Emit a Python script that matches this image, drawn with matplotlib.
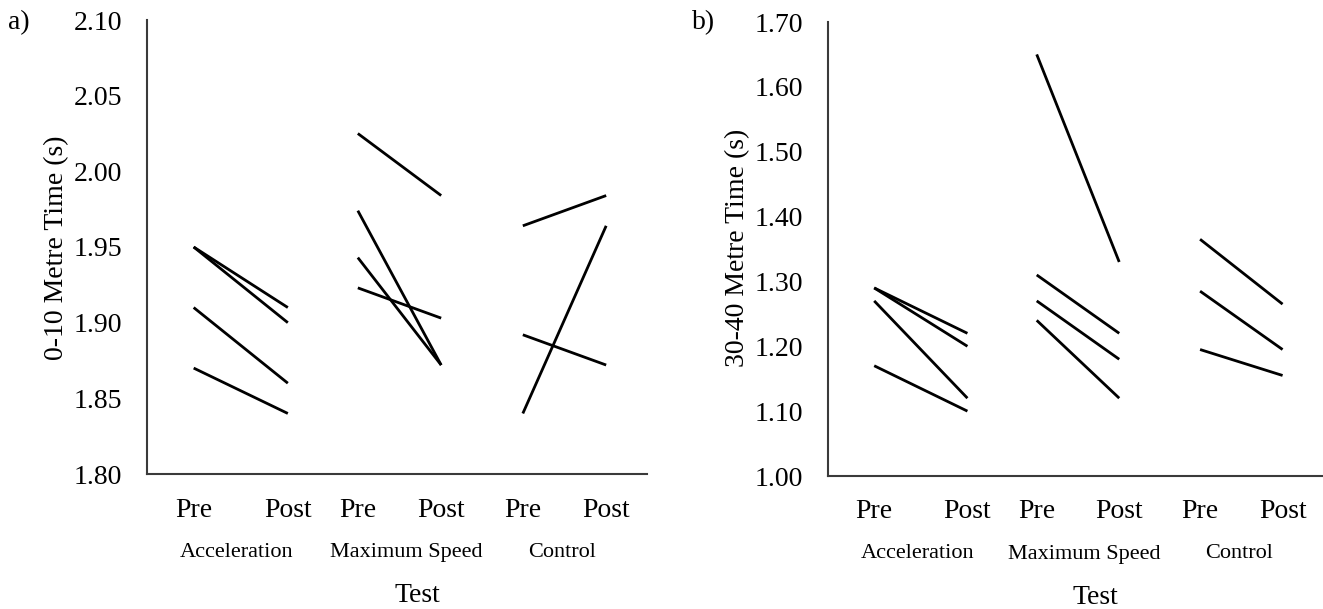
import matplotlib
matplotlib.use("Agg")
import matplotlib.pyplot as plt
from matplotlib.transforms import blended_transform_factory

plt.rcParams['font.family'] = ['Liberation Serif', 'DejaVu Serif']

# ---------------- data ----------------
groups = ["Acceleration", "Maximum Speed", "Control"]
phase_labels = ["Pre", "Post"]

# Panel a: 0-10 m time (s)
acc_a_pre = [1.95, 1.95, 1.91, 1.87]
acc_a_post = [1.91, 1.90, 1.86, 1.84]
max_a_pre = [2.025, 1.974, 1.943, 1.923]
max_a_post = [1.984, 1.872, 1.872, 1.903]
ctrl_a_pre = [1.964, 1.892, 1.84]
ctrl_a_post = [1.984, 1.872, 1.964]
yticks_a = [1.80, 1.85, 1.90, 1.95, 2.00, 2.05, 2.10]

# Panel b: 30-40 m time (s)
acc_b_pre = [1.29, 1.29, 1.27, 1.17]
acc_b_post = [1.22, 1.20, 1.12, 1.10]
max_b_pre = [1.65, 1.31, 1.27, 1.24]
max_b_post = [1.33, 1.22, 1.18, 1.12]
ctrl_b_pre = [1.365, 1.285, 1.195]
ctrl_b_post = [1.265, 1.195, 1.155]
yticks_b = [1.00, 1.10, 1.20, 1.30, 1.40, 1.50, 1.60, 1.70]

# ---------------- layout ----------------
W, H = 1323, 609
DPI = 100
# x positions (category units, axis spans 0..6) of Pre/Post for each group
pos = [(0.56, 1.69), (2.53, 3.53), (4.51, 5.51)]
group_label_x = [1.08, 3.11, 4.98]
test_x = 3.24

fig = plt.figure(figsize=(W / DPI, H / DPI), dpi=DPI)
fig.patch.set_facecolor('white')


def make_panel(rect, pre_lists, post_lists, yticks, ylabel, ylabel_x, panel_tag, tag_x, base_off):
    ax = fig.add_axes(rect)
    ax.set_xlim(0, 6)
    ax.set_ylim(yticks[0], yticks[-1])
    for (xp, xq), pre, post in zip(pos, pre_lists, post_lists):
        for a, b in zip(pre, post):
            ax.plot([xp, xq], [a, b], color='black', lw=2.0, solid_capstyle='butt')
    for s in ['top', 'right']:
        ax.spines[s].set_visible(False)
    for s in ['left', 'bottom']:
        ax.spines[s].set_color('#3a3a3a')
        ax.spines[s].set_linewidth(1.5)
    ax.set_yticks(yticks)
    ax.set_yticklabels([f"{v:.2f}" for v in yticks])
    ax.tick_params(axis='y', length=0, pad=18, labelsize=20)
    ax.set_xticks([])
    tr = blended_transform_factory(ax.transData, fig.transFigure)
    for (xp, xq) in pos:
        ax.text(xp, 1 - (517 + base_off) / H, phase_labels[0], transform=tr,
                ha='center', va='baseline', fontsize=20)
        ax.text(xq, 1 - (517 + base_off) / H, phase_labels[1], transform=tr,
                ha='center', va='baseline', fontsize=20)
    for gx, g in zip(group_label_x, groups):
        ax.text(gx, 1 - (557 + base_off) / H, g, transform=tr,
                ha='center', va='baseline', fontsize=16)
    ax.text(test_x, 1 - (602 + base_off) / H, "Test", transform=tr,
            ha='center', va='baseline', fontsize=20)
    fig.text(ylabel_x / W, 1 - 248 / H, ylabel, rotation=90,
             ha='center', va='center', fontsize=20)
    fig.text(tag_x / W, 1 - 23 / H, panel_tag, ha='left', va='center', fontsize=20)
    return ax


axA = make_panel([147 / W, 1 - 474 / H, 500 / W, 454 / H],
                 [acc_a_pre, max_a_pre, ctrl_a_pre],
                 [acc_a_post, max_a_post, ctrl_a_post],
                 yticks_a, "0-10 Metre Time (s)", 57, "a)", 8, 0)

axB = make_panel([828 / W, 1 - 476 / H, 495 / W, 454 / H],
                 [acc_b_pre, max_b_pre, ctrl_b_pre],
                 [acc_b_post, max_b_post, ctrl_b_post],
                 yticks_b, "30-40 Metre Time (s)", 738, "b)", 692, 1.5)

fig.savefig("out.png", dpi=DPI, facecolor='white')
